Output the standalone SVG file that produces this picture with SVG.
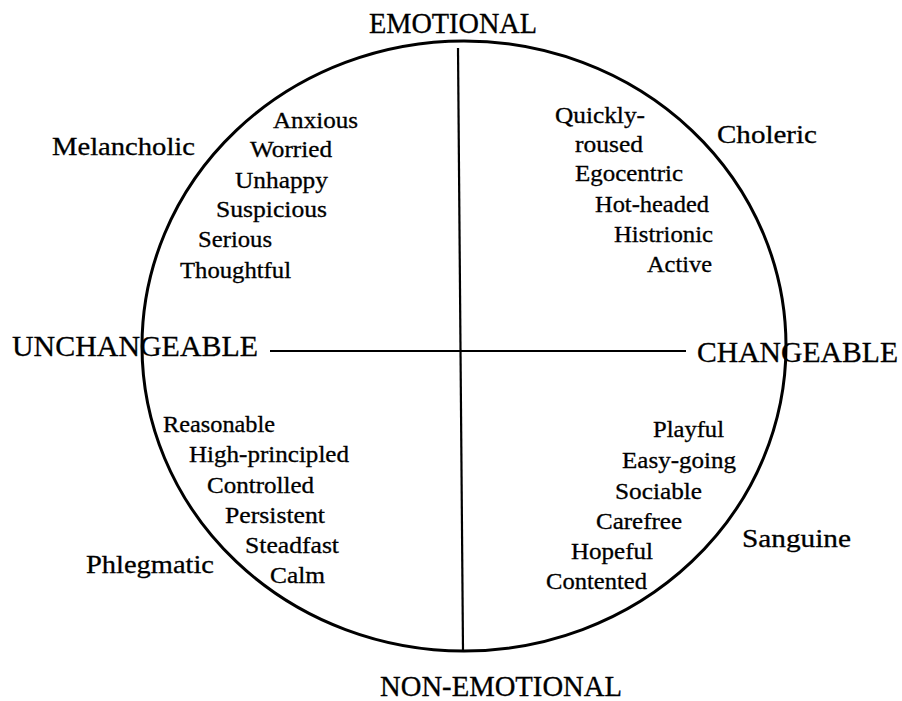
<svg xmlns="http://www.w3.org/2000/svg" width="902" height="701" viewBox="0 0 902 701">
<style>
text { font-family: "Liberation Serif", "Times New Roman", serif; fill: #000; stroke: #000; stroke-width: 0.3; }
.ax { font-size: 30px; }
.tp { font-size: 25px; }
.w { font-size: 23px; }
.ln { stroke: #000; stroke-width: 2.2; fill: none; }
</style>
<rect width="902" height="701" fill="#fff"/>
<g id="circle">
<ellipse cx="464" cy="346" rx="322" ry="305" fill="none" stroke="#000" stroke-width="3"/>
</g>
<g id="connectors">
<line class="ln" x1="458" y1="48" x2="463" y2="650"/>
<line class="ln" x1="270" y1="351" x2="686" y2="351"/>
</g>
<g id="emotional"><text class="ax" x="369" y="33" textLength="168" lengthAdjust="spacingAndGlyphs">EMOTIONAL</text></g>
<g id="non-emotional"><text class="ax" x="380" y="696" font-size="29" textLength="242" lengthAdjust="spacingAndGlyphs">NON-EMOTIONAL</text></g>
<g id="unchangeable"><text class="ax" x="12" y="356" textLength="246" lengthAdjust="spacingAndGlyphs">UNCHANGEABLE</text></g>
<g id="changeable"><text class="ax" x="697" y="362" textLength="201" lengthAdjust="spacingAndGlyphs">CHANGEABLE</text></g>
<g id="melancholic">
<text class="tp" x="52" y="155" textLength="143" lengthAdjust="spacingAndGlyphs">Melancholic</text>
<text class="w" x="273" y="128" textLength="85" lengthAdjust="spacingAndGlyphs">Anxious</text>
<text class="w" x="250" y="157" textLength="82" lengthAdjust="spacingAndGlyphs">Worried</text>
<text class="w" x="235" y="188" textLength="93" lengthAdjust="spacingAndGlyphs">Unhappy</text>
<text class="w" x="216" y="217" textLength="111" lengthAdjust="spacingAndGlyphs">Suspicious</text>
<text class="w" x="198" y="247" textLength="74" lengthAdjust="spacingAndGlyphs">Serious</text>
<text class="w" x="180" y="278" textLength="111" lengthAdjust="spacingAndGlyphs">Thoughtful</text>
</g>
<g id="choleric">
<text class="tp" x="717" y="143" textLength="100" lengthAdjust="spacingAndGlyphs">Choleric</text>
<text class="w" x="555" y="123" textLength="90" lengthAdjust="spacingAndGlyphs">Quickly-</text>
<text class="w" x="575" y="152" textLength="68" lengthAdjust="spacingAndGlyphs">roused</text>
<text class="w" x="575" y="181" textLength="108" lengthAdjust="spacingAndGlyphs">Egocentric</text>
<text class="w" x="595" y="212" textLength="114" lengthAdjust="spacingAndGlyphs">Hot-headed</text>
<text class="w" x="614" y="242" textLength="99" lengthAdjust="spacingAndGlyphs">Histrionic</text>
<text class="w" x="647" y="272" textLength="65" lengthAdjust="spacingAndGlyphs">Active</text>
</g>
<g id="phlegmatic">
<text class="tp" x="86" y="573" textLength="128" lengthAdjust="spacingAndGlyphs">Phlegmatic</text>
<text class="w" x="163" y="432" textLength="112" lengthAdjust="spacingAndGlyphs">Reasonable</text>
<text class="w" x="189" y="462" textLength="160" lengthAdjust="spacingAndGlyphs">High-principled</text>
<text class="w" x="207" y="493" textLength="107" lengthAdjust="spacingAndGlyphs">Controlled</text>
<text class="w" x="225" y="523" textLength="100" lengthAdjust="spacingAndGlyphs">Persistent</text>
<text class="w" x="245" y="553" textLength="94" lengthAdjust="spacingAndGlyphs">Steadfast</text>
<text class="w" x="270" y="583" textLength="55" lengthAdjust="spacingAndGlyphs">Calm</text>
</g>
<g id="sanguine">
<text class="tp" x="742" y="547" textLength="109" lengthAdjust="spacingAndGlyphs">Sanguine</text>
<text class="w" x="653" y="437" textLength="71" lengthAdjust="spacingAndGlyphs">Playful</text>
<text class="w" x="622" y="468" textLength="114" lengthAdjust="spacingAndGlyphs">Easy-going</text>
<text class="w" x="615" y="499" textLength="87" lengthAdjust="spacingAndGlyphs">Sociable</text>
<text class="w" x="596" y="529" textLength="86" lengthAdjust="spacingAndGlyphs">Carefree</text>
<text class="w" x="571" y="559" textLength="82" lengthAdjust="spacingAndGlyphs">Hopeful</text>
<text class="w" x="546" y="589" textLength="101" lengthAdjust="spacingAndGlyphs">Contented</text>
</g>
</svg>
